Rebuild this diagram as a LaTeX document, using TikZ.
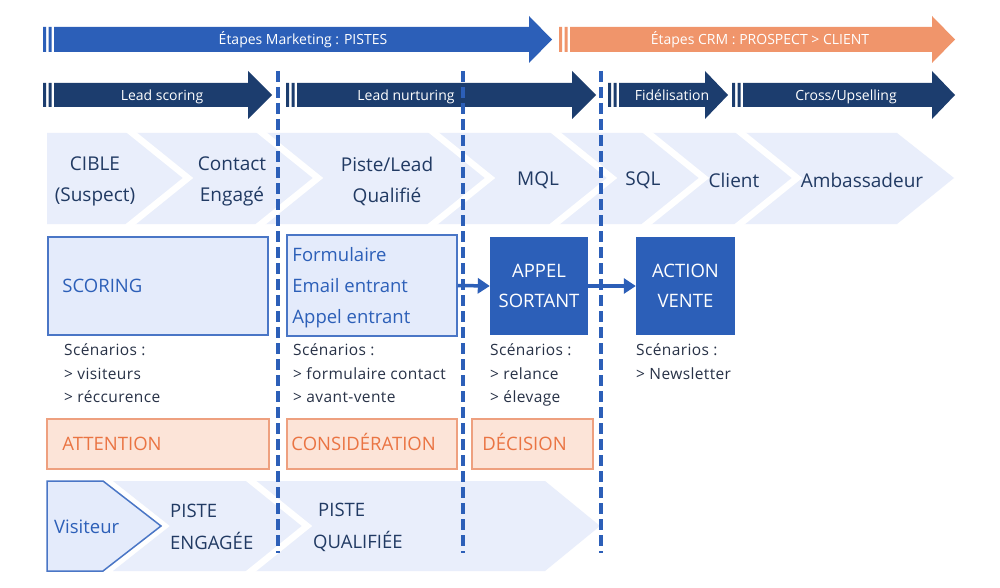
\documentclass[tikz,border=0pt]{standalone}
\usepackage{fontspec}
\setmainfont{Open Sans}
\newfontfamily\scenfont[LetterSpace=2.5]{Open Sans}
\usetikzlibrary{arrows.meta,positioning}

\definecolor{mkblue}{HTML}{2C5FB8}
\definecolor{crmorange}{HTML}{F0956B}
\definecolor{navy}{HTML}{1C3D6E}
\definecolor{bandfill}{HTML}{E9EEFB}
\definecolor{boxfill}{HTML}{E4EBFB}
\definecolor{boxline}{HTML}{4A76C6}
\definecolor{aidafill}{HTML}{FCE4D8}
\definecolor{aidaline}{HTML}{EEA07F}
\definecolor{aidatext}{HTML}{EA7443}
\definecolor{stagetext}{HTML}{213A63}
\definecolor{scentext}{HTML}{283247}

\begin{document}
\begin{tikzpicture}[x=1pt, y=-1pt,
  phase/.style={text=white, inner sep=0, text height=10pt, text depth=0pt, font=\fontsize{14}{17}\selectfont},
  stage/.style={text=stagetext, align=center, inner sep=0, font=\fontsize{19}{31}\selectfont},
  stripe/.style={draw=white, line width=6.5pt},
  bluebox/.style={draw=boxline, line width=1.5pt, fill=boxfill},
  boxlabel/.style={text=mkblue, inner sep=0, align=left, font=\fontsize{18.5}{31}\selectfont},
  ctabox/.style={fill=mkblue, minimum width=98pt, minimum height=98pt, text=white, align=center, font=\fontsize{18.5}{30}\selectfont},
  scen/.style={anchor=base west, inner sep=0, text=scentext, font=\scenfont\fontsize{15.5}{19}\selectfont},
  aidabox/.style={draw=aidaline, line width=1.5pt, fill=aidafill, minimum height=50pt},
  aidalabel/.style={text=aidatext, inner sep=0, text height=13.2pt, text depth=0pt, font=\fontsize{18.5}{22}\selectfont},
  piste/.style={text=stagetext, inner sep=0, align=left, font=\fontsize{18.5}{32}\selectfont},
  separator/.style={draw=mkblue, line width=4pt, dash pattern=on 11pt off 5pt},
  flowarrow/.style={draw=mkblue, line width=3.5pt, -{Triangle[length=12pt,width=15pt]}}]

\fill[white] (0,0) rectangle (1000,588);
\useasboundingbox (0,0) rectangle (1000,588);

% etapes marketing / crm
\foreach \xa/\xb/\xc/\xt/\col/\l [count=\i] in {43/529/552/303/mkblue/{Étapes Marketing : PISTES}, 559/932/955/760/crmorange/{Étapes CRM : PROSPECT > CLIENT}}{
  \fill[\col] (\xa,27) rectangle ++(3,25) (\xa+5.5,27) rectangle ++(3,25);
  \fill[\col] (\xa+11,27) -- (\xb,27) -- (\xb,16) -- (\xc,39.5) -- (\xb,63) -- (\xb,52) -- (\xa+11,52) -- cycle;
  \node[phase] (etape-\i) at (\xt,40) {\l};
}

\foreach \xa/\xb/\xc/\xt/\l [count=\i] in {43/248/272/162/Lead scoring, 286/572/596/406/Lead nurturing, 608/705/728/672/Fidélisation, 732/932/955/846/{Cross/Upselling}}{
  \fill[navy] (\xa,83) rectangle ++(3,24) (\xa+5.5,83) rectangle ++(3,24);
  \fill[navy] (\xa+11,83) -- (\xb,83) -- (\xb,71) -- (\xc,95) -- (\xb,119) -- (\xb,107) -- (\xa+11,107) -- cycle;
  \node[phase] (action-\i) at (\xt,95.5) {\l};
}

% cycle de vie
\fill[bandfill] (47,133) -- (897,133) -- (954,178) -- (897,224) -- (47,224) -- cycle;
\foreach \x in {132,262,434,556,648,741}
  \draw[stripe] (\x-6,128) -- (\x+56,178) -- (\x-6,228);

\foreach \x/\l [count=\i] in {95/{CIBLE\\(Suspect)}, 232/{Contact\\Engagé}, 387/{Piste/Lead\\Qualifié}}
  \node[stage] (stage-\i) at (\x,181) {\l};
\foreach \x/\l [count=\i from 4] in {538/MQL, 643/SQL, 734/Client, 862/Ambassadeur}
  \node[stage] (stage-\i) at (\x,180) {\l};

% canaux
\node[bluebox, minimum width=220pt, minimum height=98pt] (scoring) at (158,286) {};
\node[boxlabel, right=15pt of scoring.west] (scoring-text) {SCORING};

\node[bluebox, minimum width=170pt, minimum height=101pt] (form) at (372,285.5) {};
\node[boxlabel, right=6pt of form.west, yshift=-2pt] (form-text) {Formulaire\\Email entrant\\Appel entrant};

\node[ctabox] (appel) at (539,286) {APPEL\\SORTANT};
\node[ctabox, minimum width=99pt] (vente) at (685.5,286) {ACTION\\VENTE};

\draw[flowarrow] (form.east) -- (appel.west);
\draw[flowarrow] (appel.east) -- (vente.west);

\foreach \x/\lines [count=\c] in {64/{Scénarios :,> visiteurs,> réccurence}, 293/{Scénarios :,> formulaire contact,> avant-vente}, 490/{Scénarios :,> relance,> élevage}, 636/{Scénarios :,> Newsletter}}
  \foreach \l [count=\k] in \lines
    \node[scen] (scen-\c-\k) at (\x,355.5+23.5*\k-23.5) {\l};

% aida
\foreach \x/\w/\d/\l [count=\i] in {158/222/16/ATTENTION, 372/170/5/CONSIDÉRATION, 532.5/121/11/DÉCISION}{
  \node[aidabox, minimum width=\w pt] (aida-\i) at (\x,444) {};
  \node[aidalabel, right=\d pt of aida-\i.west] (aida-text-\i) {\l};
}

% pistes
\fill[bandfill] (113,481) -- (545,481) -- (600,526) -- (545,571) -- (113,571) -- (170,526) -- cycle;
\draw[stripe] (245,476) -- (307,526) -- (245,576);
\draw[bluebox] (47,481) -- (103,481) -- (161,526) -- (103,571) -- (47,571) -- cycle;
\node[boxlabel, anchor=west] (visiteur) at (54,526.5) {Visiteur};
\node[piste, anchor=west] (piste-1) at (170,527) {PISTE\\ENGAGÉE};
\node[piste, anchor=west] (piste-2) at (313,527) {\hspace*{5pt}PISTE\\QUALIFIÉE};

\foreach \x in {278,463,601}
  \draw[separator] (\x,71) -- (\x,553);

\end{tikzpicture}
\end{document}
